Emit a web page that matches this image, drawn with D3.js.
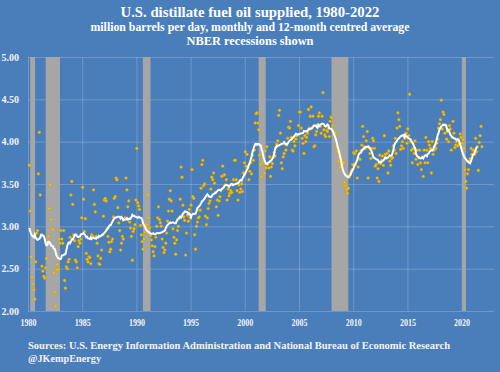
<!DOCTYPE html>
<html>
<head>
<meta charset="utf-8">
<script src="https://cdn.jsdelivr.net/npm/d3@7"></script>
<style>
  body { margin: 0; background: #4a7ebb; }
  #chart text { font-family: 'Liberation Serif', 'DejaVu Serif', serif; font-weight: bold; }
</style>
</head>
<body>
<div id="chart"></div>
<script>

// monthly product supplied, million b/d, starting Jan 1980
var startYear = 1980;
var supplied = [
  3.72, 3.18, 2.64, 2.40, 2.32, 2.25, 2.14, 2.58, 2.92, 2.95, 3.62, 4.11, // 1980
  3.37, 2.90, 2.53, 2.47, 2.41, 2.39, 2.51, 2.62, 2.81, 2.88, 3.21, 3.49, // 1981
  3.08, 2.97, 2.96, 2.45, 2.22, 2.06, 2.49, 2.55, 2.49, 2.85, 2.80, 2.95, // 1982
  2.85, 2.80, 2.95, 2.36, 2.27, 2.52, 2.50, 2.58, 2.61, 2.87, 3.37, 3.53, // 1983
  3.26, 2.90, 2.83, 2.60, 2.58, 2.51, 2.76, 2.83, 2.80, 2.85, 3.10, 3.46, // 1984
  3.32, 2.94, 3.09, 2.68, 2.61, 2.58, 2.64, 2.63, 2.56, 2.90, 2.88, 3.43, // 1985
  3.26, 3.17, 2.88, 2.80, 2.65, 2.56, 2.55, 2.62, 2.72, 2.90, 3.12, 3.31, // 1986
  3.33, 3.30, 2.97, 2.88, 2.81, 2.70, 2.73, 2.82, 2.85, 3.11, 3.33, 3.35, // 1987
  3.57, 3.55, 3.22, 3.04, 2.95, 2.72, 2.80, 2.88, 2.85, 3.08, 3.10, 3.57, // 1988
  3.43, 3.23, 3.30, 3.05, 2.98, 2.88, 2.60, 2.94, 2.97, 3.02, 3.31, 3.92, // 1989
  3.28, 3.24, 3.20, 3.01, 2.90, 2.82, 2.73, 2.85, 2.93, 3.00, 3.02, 3.37, // 1990
  3.10, 2.98, 2.89, 2.84, 2.77, 2.70, 2.65, 2.76, 2.87, 3.00, 3.10, 3.23, // 1991
  3.08, 3.04, 3.00, 2.85, 2.75, 2.69, 2.72, 2.80, 2.92, 3.06, 3.18, 3.32, // 1992
  3.42, 3.30, 3.18, 2.97, 2.87, 2.80, 2.67, 2.84, 2.95, 3.00, 3.10, 3.32, // 1993
  3.70, 3.58, 3.25, 3.11, 3.07, 2.66, 2.92, 3.13, 3.06, 3.20, 3.10, 3.25, // 1994
  3.67, 3.35, 3.33, 2.90, 2.73, 3.00, 3.05, 3.10, 3.11, 3.19, 3.45, 3.73, // 1995
  3.78, 3.48, 3.50, 3.12, 3.02, 3.10, 3.21, 3.27, 3.30, 3.44, 3.58, 3.55, // 1996
  3.63, 3.51, 3.40, 3.23, 3.31, 3.13, 3.30, 3.35, 3.42, 3.59, 3.71, 3.60, // 1997
  3.61, 3.49, 3.55, 3.31, 3.44, 3.36, 3.39, 3.42, 3.40, 3.49, 3.55, 3.78, // 1998
  3.78, 3.55, 3.42, 3.31, 3.49, 3.40, 3.44, 3.50, 3.41, 3.63, 3.75, 3.88, // 1999
  3.71, 3.85, 3.70, 3.55, 3.65, 3.75, 3.62, 3.84, 3.78, 3.90, 4.22, 4.33, // 2000
  4.34, 4.22, 4.14, 3.84, 3.73, 3.59, 3.75, 3.83, 3.63, 3.89, 3.69, 3.94, // 2001
  3.73, 3.69, 3.82, 3.59, 3.70, 3.74, 3.82, 3.87, 3.83, 3.93, 3.97, 4.01, // 2002
  4.31, 4.37, 4.10, 3.75, 3.68, 3.82, 3.86, 3.97, 3.90, 3.96, 4.04, 4.17, // 2003
  4.16, 4.24, 4.05, 3.90, 3.89, 4.00, 3.95, 4.03, 4.07, 4.08, 4.19, 4.35, // 2004
  4.35, 4.16, 4.04, 3.98, 3.86, 4.07, 4.00, 4.05, 4.10, 4.38, 4.16, 4.30, // 2005
  4.41, 4.16, 4.30, 3.94, 3.95, 4.08, 4.12, 4.20, 4.30, 4.34, 4.18, 4.10, // 2006
  4.30, 4.58, 4.14, 4.08, 4.06, 4.13, 4.12, 4.16, 4.06, 4.24, 4.29, 4.28, // 2007
  4.19, 4.12, 4.09, 4.10, 3.94, 3.88, 3.77, 3.86, 3.69, 3.80, 3.77, 3.73, // 2008
  3.75, 3.52, 3.48, 3.43, 3.39, 3.45, 3.58, 3.61, 3.64, 3.67, 3.73, 3.87, // 2009
  3.86, 3.73, 3.89, 3.57, 3.70, 3.80, 3.79, 3.89, 3.96, 4.18, 4.06, 3.94, // 2010
  3.92, 4.01, 4.12, 3.57, 3.93, 3.86, 3.80, 3.92, 4.04, 4.01, 3.92, 3.71, // 2011
  3.73, 3.57, 3.68, 3.53, 3.84, 3.74, 3.78, 3.83, 3.72, 4.07, 3.85, 3.80, // 2012
  3.86, 3.63, 3.89, 3.77, 3.72, 3.80, 3.81, 3.95, 3.90, 4.04, 3.86, 4.16, // 2013
  4.34, 4.26, 4.18, 3.91, 3.95, 4.00, 3.92, 4.08, 4.04, 4.10, 3.98, 4.15, // 2014
  4.07, 4.56, 4.00, 3.90, 3.75, 3.92, 3.86, 4.01, 3.79, 3.90, 3.73, 3.81, // 2015
  3.90, 3.75, 3.67, 3.82, 3.59, 3.90, 3.75, 4.05, 3.90, 3.75, 4.00, 3.96, // 2016
  3.92, 3.63, 4.00, 3.85, 3.90, 3.95, 3.92, 3.98, 4.03, 4.16, 4.21, 4.26, // 2017
  4.49, 4.15, 4.35, 4.32, 4.10, 4.19, 4.03, 4.12, 4.00, 4.19, 4.15, 3.90, // 2018
  4.05, 4.24, 4.10, 3.93, 3.96, 4.00, 3.95, 4.02, 3.97, 4.09, 4.05, 3.98, // 2019
  4.02, 3.92, 3.67, 3.53, 3.45, 3.62, 3.67, 3.77, 3.80, 3.92, 3.85, 3.90, // 2020
  3.90, 3.85, 4.04, 3.88, 3.94, 3.66, 3.99, 4.07, 4.18, 3.94              // 2021
];

var leadAverage = [2.98, 2.94, 2.91, 2.89, 2.88, 2.87];

// NBER recessions, as decimal years
var recessionStart = [1980.2, 1981.63, 1990.6, 2001.28, 2008.0, 2020.05];
var recessionEnd = [1980.65, 1982.95, 1991.3, 2001.93, 2009.55, 2020.4];

var yTicks = [2, 2.5, 3, 3.5, 4, 4.5, 5];
var xTicks = [1980, 1985, 1990, 1995, 2000, 2005, 2010, 2015, 2020];

var titleLines = [
  'U.S. distillate fuel oil supplied, 1980-2022',
  'million barrels per day, monthly and 12-month centred average',
  'NBER recessions shown'
];
var sourceLines = [
  'Sources: U.S. Energy Information Administration and National Bureau of Economic Research',
  '@JKempEnergy'
];

function draw() {

  var margin = { top: 57, right: 6, bottom: 61, left: 28 };
  var width = 500 - margin.left - margin.right;
  var height = 372 - margin.top - margin.bottom;

  var svg = d3.select('#chart')
    .append('svg')
      .attr('width', 500)
      .attr('height', 372);

  svg.append('rect')
      .attr('width', 500)
      .attr('height', 372)
      .attr('fill', '#4a7ebb');

  // titles
  var titleSize = [15, 11.5, 11.5];
  var titleY = [17, 31, 44.5];
  var titleWidth = [259, 319, 127];

  svg.selectAll('.title')
      .data(titleLines)
      .enter()
    .append('text')
      .attr('class', 'title')
      .attr('x', 250)
      .attr('y', function (d, i) { return titleY[i]; })
      .attr('text-anchor', 'middle')
      .attr('font-size', function (d, i) { return titleSize[i] + 'px'; })
      .attr('textLength', function (d, i) { return titleWidth[i]; })
      .attr('lengthAdjust', 'spacingAndGlyphs')
      .attr('fill', '#ffffff')
      .text(function (d) { return d; });

  var g = svg.append('g')
      .attr('transform', 'translate(' + margin.left + ',' + margin.top + ')');

  var x = d3.scaleLinear()
      .range([0, width])
      .domain([1980, 1980 + width / 10.84]);

  var y = d3.scaleLinear()
      .range([height, 0])
      .domain([2, 5]);

  var yAxis = g.append('g')
      .call(d3.axisLeft(y)
        .tickValues(yTicks)
        .tickSize(-width)
        .tickPadding(9)
        .tickFormat(d3.format('.2f'))
      );

  var xAxis = g.append('g')
      .attr('transform', 'translate(0,' + height + ')')
      .call(d3.axisBottom(x)
        .tickValues(xTicks)
        .tickSize(-height)
        .tickPadding(8)
        .tickFormat(d3.format('d'))
      );

  [yAxis, xAxis].forEach(function (axis) {
    axis.select('.domain').remove();
    axis.selectAll('line')
        .attr('stroke', 'rgba(255,255,255,0.2)')
        .attr('stroke-width', 1);
    axis.selectAll('text')
        .attr('fill', '#f2f2f2');
  });

  yAxis.selectAll('text')
      .attr('font-size', '10px');

  xAxis.selectAll('text')
      .attr('font-size', '10.5px')
      .attr('textLength', 16)
      .attr('lengthAdjust', 'spacingAndGlyphs');

  // recession bands
  g.selectAll('.recession')
      .data(recessionStart)
      .enter()
    .append('rect')
      .attr('class', 'recession')
      .attr('x', function (d) { return x(d); })
      .attr('width', function (d, i) { return x(recessionEnd[i]) - x(d); })
      .attr('y', 0)
      .attr('height', height)
      .attr('fill', '#a6a6a6');

  var points = supplied.map(function (v, i) {
    return { date: startYear + (i + 1.5) / 12, value: v };
  });

  // 12-month centred average
  var average = [];
  leadAverage.forEach(function (v, i) {
    average.push({ date: points[i].date, value: v });
  });
  for (var i = 6; i + 6 <= supplied.length; i++) {
    average.push({
      date: points[i].date,
      value: d3.mean(supplied.slice(i - 6, i + 6))
    });
  }

  g.selectAll('.month')
      .data(points)
      .enter()
    .append('circle')
      .attr('class', 'month')
      .attr('cx', function (d) { return x(d.date); })
      .attr('cy', function (d) { return y(d.value); })
      .attr('r', 1.4)
      .attr('fill', '#ffc000')
      .attr('stroke', '#c99a00')
      .attr('stroke-width', 0.5);

  var line = d3.line()
      .x(function (d) { return x(d.date); })
      .y(function (d) { return y(d.value); });

  g.append('path')
      .datum(average)
      .attr('fill', 'none')
      .attr('stroke', '#ffffff')
      .attr('stroke-width', 2)
      .attr('d', line);

  // sources
  var sourceY = [349, 362];
  var sourceWidth = [422, 73];

  svg.selectAll('.source')
      .data(sourceLines)
      .enter()
    .append('text')
      .attr('class', 'source')
      .attr('x', margin.left)
      .attr('y', function (d, i) { return sourceY[i]; })
      .attr('font-size', '10px')
      .attr('textLength', function (d, i) { return sourceWidth[i]; })
      .attr('lengthAdjust', 'spacingAndGlyphs')
      .attr('fill', '#f2f2f2')
      .text(function (d) { return d; });
}

draw();
</script>
</body>
</html>
